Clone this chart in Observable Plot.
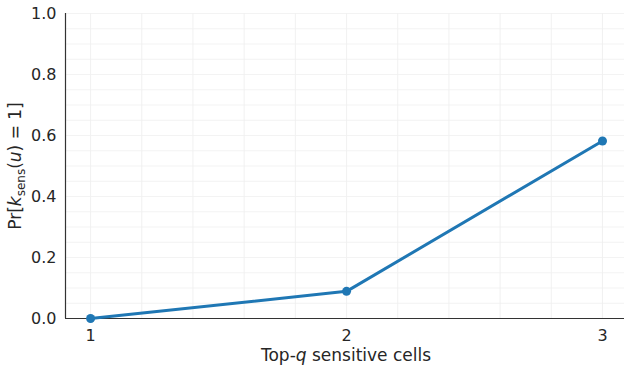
<!DOCTYPE html>
<html>
<head>
<meta charset="utf-8">
<script src="https://cdn.jsdelivr.net/npm/d3@7"></script>
<script src="https://cdn.jsdelivr.net/npm/@observablehq/plot@0.6"></script>
<style>
  html, body { margin: 0; padding: 0; background: #fff; }
  svg { display: block; }
</style>
</head>
<body>
<div id="chart"></div>
<script>
const topQ = [1, 2, 3];
const probability = [0, 0.089, 0.582];
const xTicks = [1, 2, 3];
const yTicks = [0, 0.2, 0.4, 0.6, 0.8, 1.0];
const xLabel = "Top-q sensitive cells";

const data = topQ.map((q, i) => ({q, p: probability[i]}));
const xGrid = d3.range(1, 3.0001, 0.2);
const yGrid = d3.range(0, 1.0001, 0.05);
const font = "DejaVu Sans, sans-serif";
const ink = "#262626";

const chart = Plot.plot({
  width: 624,
  height: 370,
  marginLeft: 65,
  marginRight: 0,
  marginTop: 13,
  marginBottom: 52,
  style: {fontFamily: font, fontSize: "16px", color: ink, background: "#fff"},
  x: {domain: [0.902, 3.086], label: null},
  y: {domain: [0, 1], label: null},
  marks: [
    Plot.ruleX(xGrid, {stroke: "#eeeeee", strokeWidth: 0.8}),
    Plot.ruleY(yGrid, {stroke: "#f0f0f0", strokeWidth: 0.8}),
    Plot.axisX({ticks: xTicks, tickFormat: d => String(d), tickSize: 0, tickPadding: 11, fontSize: 16, fill: ink, label: null}),
    Plot.axisY({ticks: yTicks, tickFormat: d3.format(".1f"), tickSize: 0, tickPadding: 9, fontSize: 16, fill: ink, label: null}),
    Plot.ruleY([0], {stroke: "#333", strokeWidth: 1.2}),
    Plot.ruleX([0.902], {stroke: "#333", strokeWidth: 1.2}),
    Plot.line(data, {x: "q", y: "p", stroke: "#1f77b4", strokeWidth: 3}),
    Plot.dot(data, {x: "q", y: "p", fill: "#1f77b4", r: 4.5})
  ]
});
document.getElementById("chart").appendChild(chart);

const svg = d3.select(chart);

// x-axis label with italic q
const xl = svg.append("text")
  .attr("x", 346).attr("y", 361)
  .attr("text-anchor", "middle")
  .attr("fill", ink)
  .style("font-family", font).style("font-size", "17px");
xl.append("tspan").text("Top-");
xl.append("tspan").attr("font-style", "italic").text("q");
xl.append("tspan").text(" sensitive cells");

// y-axis label Pr[k_sens(u) = 1]
const yl = svg.append("text")
  .attr("transform", "translate(21,166) rotate(-90)")
  .attr("text-anchor", "middle")
  .attr("fill", ink)
  .style("font-family", font).style("font-size", "17px");
yl.append("tspan").text("Pr[");
yl.append("tspan").attr("font-style", "italic").text("k");
yl.append("tspan").attr("font-size", "12px").attr("dy", "4").text("sens");
yl.append("tspan").attr("dy", "-4").text("(");
yl.append("tspan").attr("font-style", "italic").text("u");
yl.append("tspan").text(") = 1]");
</script>
</body>
</html>
